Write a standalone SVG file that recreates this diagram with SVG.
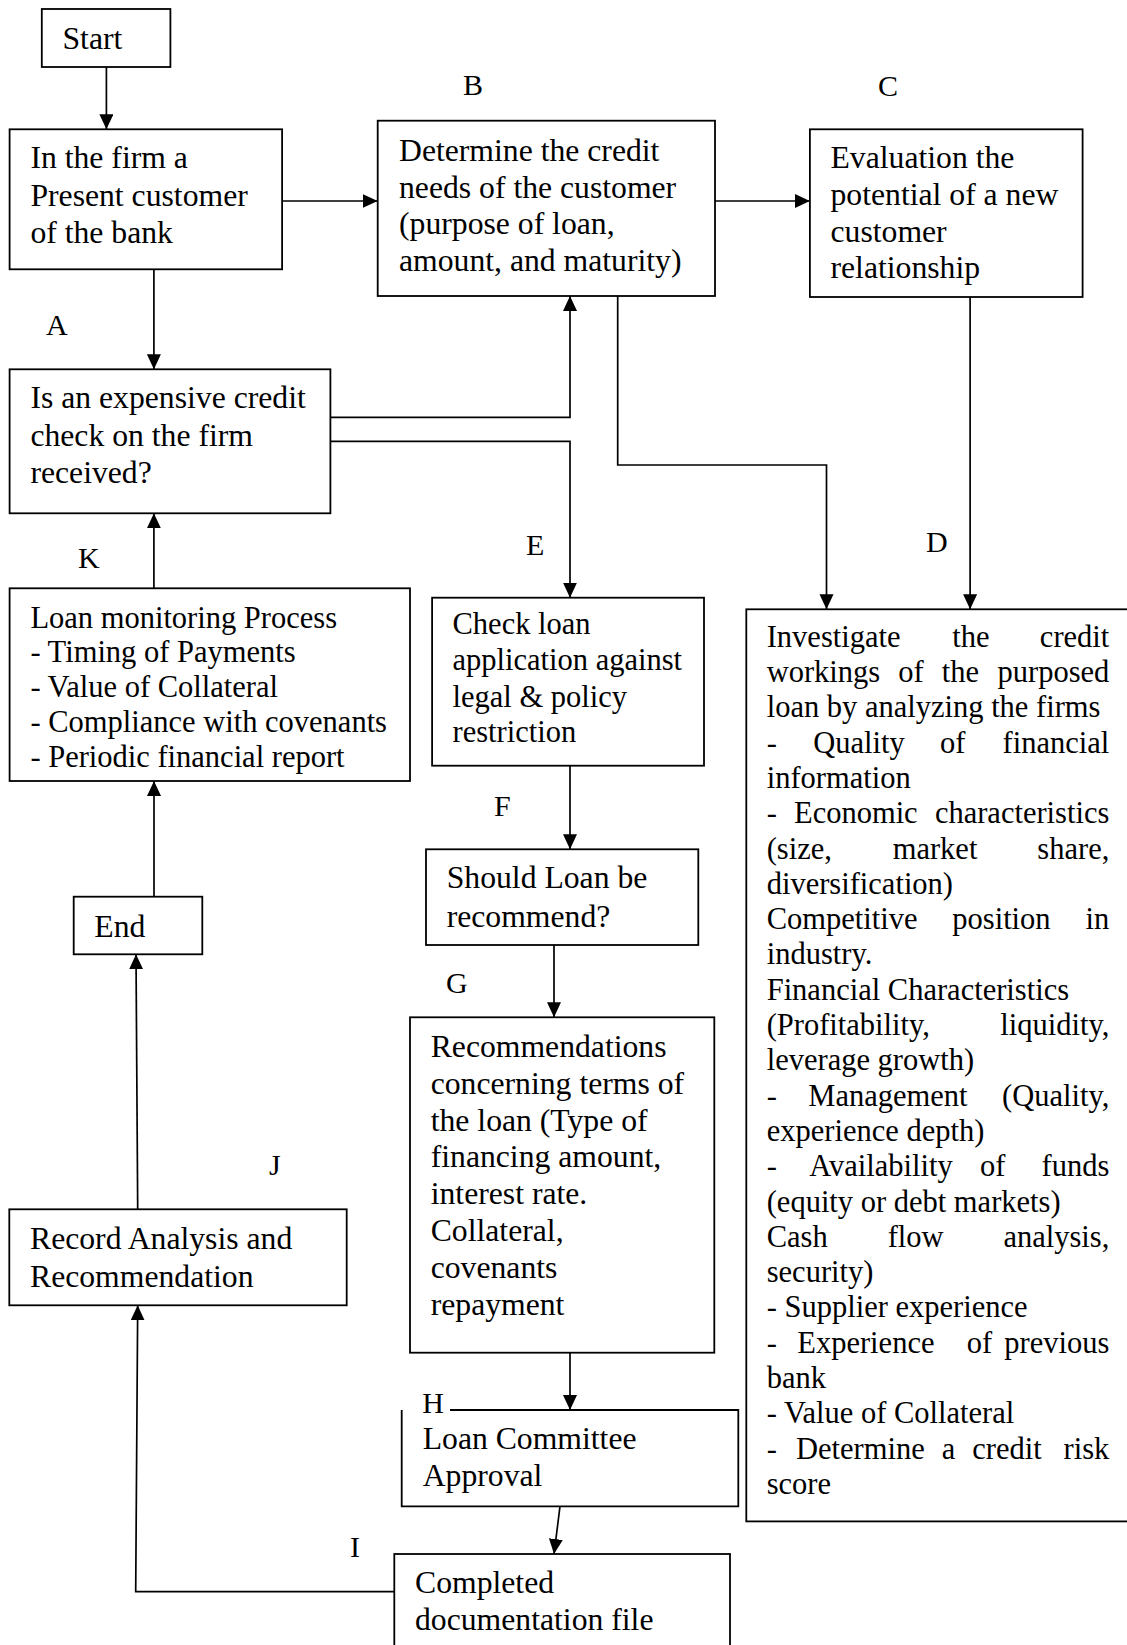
<svg xmlns="http://www.w3.org/2000/svg" width="1127" height="1645" viewBox="0 0 1127 1645">
<style>
.bx{fill:#fff;stroke:#000;stroke-width:1.8}
.ln{fill:none;stroke:#000;stroke-width:1.8}
.c{fill:none;stroke:#000;stroke-width:1.7}
text{font-family:"Liberation Serif","Times New Roman",serif;font-size:31.7px;fill:#000}
.s{font-size:30.5px}
.lb{font-size:30px}
.r{text-anchor:end}
</style>
<defs>
<marker id="ah" markerUnits="userSpaceOnUse" markerWidth="16" markerHeight="16" refX="15" refY="7" orient="auto">
<path d="M0,0 L15,7 L0,14 Z" fill="#000"/>
</marker>
</defs>
<rect width="1127" height="1645" fill="#fff"/>

<g id="labels">
<text class="lb" x="463" y="95">B</text>
<text class="lb" x="878" y="96">C</text>
<text class="lb" x="46" y="335">A</text>
<text class="lb" x="78" y="568">K</text>
<text class="lb" x="526" y="555">E</text>
<text class="lb" x="926" y="552">D</text>
<text class="lb" x="494" y="816">F</text>
<text class="lb" x="446" y="993">G</text>
<text class="lb" x="269" y="1175">J</text>
<text class="lb" x="350" y="1557">I</text>
</g>

<g id="connectors">
<path class="c" d="M106.4,67 V129.3" marker-end="url(#ah)"/>
<path class="c" d="M282.1,201 H377.7" marker-end="url(#ah)"/>
<path class="c" d="M715,201 H809.9" marker-end="url(#ah)"/>
<path class="c" d="M153.9,269.3 V369.3" marker-end="url(#ah)"/>
<path class="c" d="M330.4,417.3 H570 V296" marker-end="url(#ah)"/>
<path class="c" d="M330.4,441.3 H570 V597.7" marker-end="url(#ah)"/>
<path class="c" d="M617.7,296 V465 H826.5 V609.3" marker-end="url(#ah)"/>
<path class="c" d="M970.1,297 V609.3" marker-end="url(#ah)"/>
<path class="c" d="M153.9,588.3 V513.3" marker-end="url(#ah)"/>
<path class="c" d="M154,896.7 V781" marker-end="url(#ah)"/>
<path class="c" d="M137.7,1209.3 L136,954.3" marker-end="url(#ah)"/>
<path class="c" d="M570,765.7 V849.3" marker-end="url(#ah)"/>
<path class="c" d="M554,945 V1017.3" marker-end="url(#ah)"/>
<path class="c" d="M570,1352.7 V1410" marker-end="url(#ah)"/>
<path class="c" d="M560,1506.3 L554,1554" marker-end="url(#ah)"/>
<path class="c" d="M394.3,1591.7 H135.7 L137.7,1305.3" marker-end="url(#ah)"/>
</g>

<g id="start">
<rect class="bx" x="41.8" y="9" width="128.6" height="58"/>
<text x="62.5" y="49.3">Start</text>
</g>

<g id="present-customer">
<rect class="bx" x="9.6" y="129.3" width="272.5" height="140"/>
<text x="30.4" y="168.3">In the firm a</text>
<text x="30.4" y="205.7">Present customer</text>
<text x="30.4" y="243.3">of the bank</text>
</g>

<g id="node-b">
<rect class="bx" x="377.7" y="120.7" width="337.3" height="175.3"/>
<text x="399" y="161">Determine the credit</text>
<text x="399" y="197.7">needs of the customer</text>
<text x="399" y="234.3">(purpose of loan,</text>
<text x="399" y="271">amount, and maturity)</text>
</g>

<g id="node-c">
<rect class="bx" x="809.9" y="129.3" width="272.7" height="167.7"/>
<text x="830.5" y="168.3">Evaluation the</text>
<text x="830.5" y="205">potential of a new</text>
<text x="830.5" y="241.7">customer</text>
<text x="830.5" y="278.4">relationship</text>
</g>

<g id="node-a">
<rect class="bx" x="9.6" y="369.3" width="320.8" height="144"/>
<text x="30.4" y="408.3">Is an expensive credit</text>
<text x="30.4" y="445.7">check on the firm</text>
<text x="30.4" y="482.7">received?</text>
</g>

<g id="node-k">
<rect class="bx" x="9.6" y="588.3" width="400.4" height="192.7"/>
<text class="s" x="30.4" y="627.7">Loan monitoring Process</text>
<text class="s" x="30.4" y="662.4">- Timing of Payments</text>
<text class="s" x="30.4" y="697.2">- Value of Collateral</text>
<text class="s" x="30.4" y="731.9">- Compliance with covenants</text>
<text class="s" x="30.4" y="766.7">- Periodic financial report</text>
</g>

<g id="node-e">
<rect class="bx" x="432.1" y="597.7" width="271.9" height="168"/>
<text class="s" x="452.5" y="634.3">Check loan</text>
<text class="s" x="452.5" y="670">application against</text>
<text class="s" x="452.5" y="706.7">legal &amp; policy</text>
<text class="s" x="452.5" y="741.7">restriction</text>
</g>

<g id="node-d">
<rect class="bx" x="746.3" y="609.3" width="400" height="912.1"/>
<text class="s" x="766.7" y="646.7">Investigate</text><text class="s" x="952.3" y="646.7">the</text><text class="s r" x="1109.3" y="646.7">credit</text>
<text class="s" x="766.7" y="682">workings</text><text class="s" x="898.3" y="682">of</text><text class="s" x="941.7" y="682">the</text><text class="s r" x="1109.3" y="682">purposed</text>
<text class="s" x="766.7" y="717.3">loan by analyzing the firms</text>
<text class="s" x="766.7" y="752.6">-</text><text class="s" x="813.3" y="752.6">Quality</text><text class="s" x="940" y="752.6">of</text><text class="s r" x="1109.3" y="752.6">financial</text>
<text class="s" x="766.7" y="787.9">information</text>
<text class="s" x="766.7" y="823.2">-</text><text class="s" x="794" y="823.2">Economic</text><text class="s r" x="1109.3" y="823.2">characteristics</text>
<text class="s" x="766.7" y="858.5">(size,</text><text class="s" x="892.7" y="858.5">market</text><text class="s r" x="1109.3" y="858.5">share,</text>
<text class="s" x="766.7" y="893.8">diversification)</text>
<text class="s" x="766.7" y="929.1">Competitive</text><text class="s" x="952.3" y="929.1">position</text><text class="s r" x="1109.3" y="929.1">in</text>
<text class="s" x="766.7" y="964.4">industry.</text>
<text class="s" x="766.7" y="999.7">Financial Characteristics</text>
<text class="s" x="766.7" y="1035">(Profitability,</text><text class="s r" x="1109.3" y="1035">liquidity,</text>
<text class="s" x="766.7" y="1070.3">leverage growth)</text>
<text class="s" x="766.7" y="1105.6">-</text><text class="s" x="808.3" y="1105.6">Management</text><text class="s r" x="1109.3" y="1105.6">(Quality,</text>
<text class="s" x="766.7" y="1140.9">experience depth)</text>
<text class="s" x="766.7" y="1176.2">-</text><text class="s" x="809.3" y="1176.2">Availability</text><text class="s" x="980" y="1176.2">of</text><text class="s r" x="1109.3" y="1176.2">funds</text>
<text class="s" x="766.7" y="1211.5">(equity or debt markets)</text>
<text class="s" x="766.7" y="1246.8">Cash</text><text class="s" x="887.7" y="1246.8">flow</text><text class="s r" x="1109.3" y="1246.8">analysis,</text>
<text class="s" x="766.7" y="1282.1">security)</text>
<text class="s" x="766.7" y="1317.4">- Supplier experience</text>
<text class="s" x="766.7" y="1352.7">-</text><text class="s" x="797.3" y="1352.7">Experience</text><text class="s" x="966.7" y="1352.7">of</text><text class="s r" x="1109.3" y="1352.7">previous</text>
<text class="s" x="766.7" y="1388">bank</text>
<text class="s" x="766.7" y="1423.3">- Value of Collateral</text>
<text class="s" x="766.7" y="1458.6">-</text><text class="s" x="796" y="1458.6">Determine</text><text class="s" x="941.7" y="1458.6">a</text><text class="s" x="972.3" y="1458.6">credit</text><text class="s r" x="1109.3" y="1458.6">risk</text>
<text class="s" x="766.7" y="1493.9">score</text>
</g>

<g id="node-f">
<rect class="bx" x="426" y="849.3" width="272.3" height="95.7"/>
<text x="446.7" y="888.3">Should Loan be</text>
<text x="446.7" y="926.7">recommend?</text>
</g>

<g id="node-g">
<rect class="bx" x="410" y="1017.3" width="304.3" height="335.4"/>
<text x="430.7" y="1056.7">Recommendations</text>
<text x="430.7" y="1093.6">concerning terms of</text>
<text x="430.7" y="1130.5">the loan (Type of</text>
<text x="430.7" y="1167.4">financing amount,</text>
<text x="430.7" y="1204.3">interest rate.</text>
<text x="430.7" y="1241.2">Collateral,</text>
<text x="430.7" y="1278.1">covenants</text>
<text x="430.7" y="1315">repayment</text>
</g>

<g id="node-h">
<path class="ln" d="M450,1410 H738.3 V1506.3 H401.7 V1410" fill="#fff"/>
<text class="lb" x="422.3" y="1413.3">H</text>
<text x="422.7" y="1449.3">Loan Committee</text>
<text x="422.7" y="1486">Approval</text>
</g>

<g id="node-i">
<rect class="bx" x="394.3" y="1554" width="335.7" height="100"/>
<text x="415" y="1593.3">Completed</text>
<text x="415" y="1630">documentation file</text>
</g>

<g id="node-j">
<rect class="bx" x="9.3" y="1209.3" width="337.4" height="96"/>
<text x="30" y="1249">Record Analysis and</text>
<text x="30" y="1286.7">Recommendation</text>
</g>

<g id="end">
<rect class="bx" x="73.7" y="896.7" width="128.6" height="57.6"/>
<text x="94.3" y="937.3">End</text>
</g>
</svg>
